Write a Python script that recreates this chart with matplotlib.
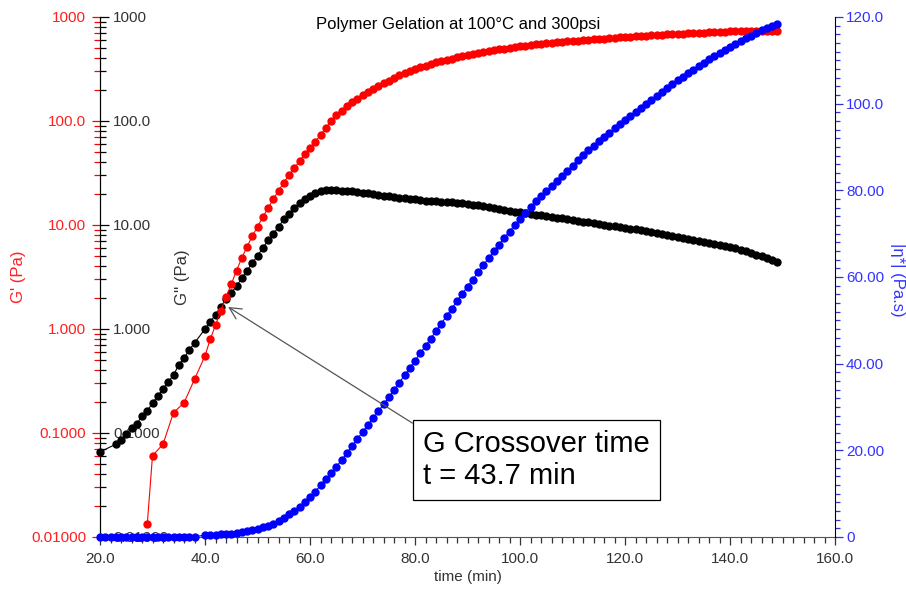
import numpy as np
import matplotlib
matplotlib.use("Agg")
import matplotlib.pyplot as plt
from matplotlib.ticker import MultipleLocator, LogLocator, NullFormatter

plt.rcParams['font.family'] = ['Liberation Sans', 'DejaVu Sans']

# G' (storage modulus), Pa
t_gp = [29, 30, 32, 34, 36, 38] + list(range(40, 150))
g_prime = [0.0132, 0.0605, 0.078, 0.157, 0.195, 0.328,
           0.553, 0.796, 1.09, 1.49, 2.02, 2.69, 3.64, 4.82, 6.18, 7.8,
           9.64, 11.9, 14.5, 17.7, 21.4, 25.5, 30.3, 35.1, 41.2, 48.2,
           54.6, 63.2, 73.5, 85, 100, 113, 126, 138, 151, 164,
           178, 192, 204, 219, 232, 245, 260, 275, 288, 302,
           316, 327, 339, 355, 367, 380, 389, 398, 412, 422,
           434, 442, 452, 462, 471, 479, 488, 495, 505, 513,
           521, 530, 537, 545, 552, 558, 565, 571, 578, 583,
           589, 594, 600, 605, 611, 617, 621, 627, 631, 637,
           641, 646, 652, 656, 661, 665, 670, 674, 679, 682,
           687, 692, 695, 700, 703, 708, 711, 716, 720, 723,
           726, 728, 730, 731, 733, 734, 735, 736, 737, 738]

# G'' (loss modulus), Pa
t_gpp = [20, 23, 24, 25, 26, 27, 28, 29, 30, 31, 32, 33, 34, 35, 36, 37, 38] + list(range(40, 150))
g_dprime = [0.0657, 0.078, 0.0857, 0.098, 0.112, 0.122, 0.146, 0.163, 0.194, 0.227,
            0.265, 0.309, 0.361, 0.451, 0.526, 0.628, 0.733,
            1.0, 1.17, 1.37, 1.63, 1.94, 2.22, 2.59, 3.07, 3.64, 4.29,
            5.07, 6.0, 7.1, 8.2, 9.6, 11.3, 12.8, 14.5, 16.2, 17.8,
            19.0, 20.2, 21.0, 21.5, 21.7, 21.6, 21.4, 21.2, 21.0, 20.7,
            20.4, 20.1, 19.8, 19.5, 19.2, 18.9, 18.6, 18.3, 18.0, 17.8,
            17.6, 17.4, 17.2, 17.0, 16.9, 16.8, 16.7, 16.6, 16.4, 16.2,
            16.0, 15.7, 15.4, 15.1, 14.8, 14.5, 14.2, 13.9, 13.6, 13.4,
            13.2, 13.0, 12.8, 12.6, 12.4, 12.2, 12.0, 11.8, 11.6, 11.4,
            11.2, 11.0, 10.8, 10.6, 10.4, 10.2, 10.0, 9.85, 9.7, 9.55,
            9.4, 9.25, 9.1, 8.95, 8.8, 8.6, 8.4, 8.2, 8.0, 7.8,
            7.6, 7.45, 7.3, 7.15, 7.0, 6.85, 6.7, 6.55, 6.4, 6.25,
            6.1, 5.95, 5.8, 5.6, 5.4, 5.2, 5.0, 4.8, 4.6, 4.45]

# |eta*| (complex viscosity), Pa.s
t_eta = list(range(20, 39)) + list(range(40, 150))
eta = [0.1] * 19 + [
    0.4, 0.45, 0.5, 0.6, 0.7, 0.8, 0.95, 1.1, 1.3, 1.55,
    1.85, 2.2, 2.6, 3.1, 3.7, 4.4, 5.2, 6.1, 7.0, 8.0,
    9.2, 10.5, 11.9, 13.3, 14.8, 16.2, 17.7, 19.3, 20.9, 22.6,
    24.2, 25.8, 27.4, 29.0, 30.6, 32.2, 33.9, 35.6, 37.3, 39.0,
    40.7, 42.4, 44.1, 45.8, 47.5, 49.2, 51.0, 52.7, 54.4, 56.1,
    57.8, 59.4, 61.1, 62.7, 64.3, 65.9, 67.5, 69.0, 70.5, 72.0,
    73.4, 74.8, 76.2, 77.5, 78.7, 79.8, 81.0, 82.2, 83.3, 84.5,
    85.7, 87.0, 88.2, 89.3, 90.3, 91.3, 92.3, 93.3, 94.3, 95.3,
    96.3, 97.2, 98.1, 99.0, 100.0, 100.9, 101.8, 102.7, 103.6, 104.5,
    105.4, 106.2, 107.0, 107.8, 108.6, 109.4, 110.2, 111.0, 111.7, 112.4,
    113.1, 113.8, 114.5, 115.1, 115.7, 116.3, 116.9, 117.5, 118.0, 118.5]

log_ticks = [0.01, 0.1, 1, 10, 100, 1000]
log_labels = ['0.01000', '0.1000', '1.000', '10.00', '100.0', '1000']
eta_ticks = [0, 20, 40, 60, 80, 100, 120]
eta_labels = ['0', '20.00', '40.00', '60.00', '80.00', '100.0', '120.0']
x_ticks = [20, 40, 60, 80, 100, 120, 140, 160]
x_labels = ['20.0', '40.0', '60.0', '80.0', '100.0', '120.0', '140.0', '160.0']

W, H = 906, 590
fig = plt.figure(figsize=(W / 100, H / 100), dpi=100)
ax = fig.add_axes([100 / W, 53 / H, 735 / W, 520 / H])

txt_gray = '#333333'
red_txt = '#ff2020'
blue_txt = '#3333ff'

# --- G' axis (red, left of spine)
ax.set_xlim(20, 160)
ax.set_yscale('log')
ax.set_ylim(0.01, 1000)
ax.set_yticks(log_ticks)
ax.set_yticklabels(log_labels)
ax.yaxis.set_minor_locator(LogLocator(base=10, subs=np.arange(2, 10)))
ax.yaxis.set_minor_formatter(NullFormatter())
ax.tick_params(axis='y', which='major', direction='out', length=6, width=0.9,
               color='red', labelcolor=red_txt, labelsize=11, pad=4)
ax.tick_params(axis='y', which='minor', direction='out', length=4, width=0.9, color='red')
ax.set_xticks(x_ticks)
ax.set_xticklabels(x_labels)
ax.xaxis.set_minor_locator(MultipleLocator(2))
ax.tick_params(axis='x', which='major', direction='out', length=6, width=0.9,
               color=txt_gray, labelcolor=txt_gray, labelsize=11, pad=5)
ax.tick_params(axis='x', which='minor', direction='out', length=4, width=0.9, color=txt_gray)
for s in ['top', 'right']:
    ax.spines[s].set_visible(False)
ax.spines['left'].set_color('black')
ax.spines['bottom'].set_color('#555555')
ax.set_xlabel('time (min)', fontsize=11, color=txt_gray, labelpad=3)

# --- G'' axis (black, right of the same spine)
ax2 = ax.twinx()
ax2.spines['right'].set_position(('axes', 0.0))
for s in ['top', 'left', 'bottom']:
    ax2.spines[s].set_visible(False)
ax2.set_yscale('log')
ax2.set_ylim(0.01, 1000)
ax2.set_yticks(log_ticks)
ax2.set_yticklabels(log_labels)
ax2.yaxis.set_minor_locator(LogLocator(base=10, subs=np.arange(2, 10)))
ax2.yaxis.set_minor_formatter(NullFormatter())
ax2.tick_params(axis='y', which='major', direction='out', length=6.5, width=0.9,
                color='black', labelcolor=txt_gray, labelsize=11, pad=3)
ax2.tick_params(axis='y', which='minor', direction='out', length=4, width=0.9, color='black')

ax2.plot(t_gpp, g_dprime, '-o', color='black', ms=5, lw=0.8, clip_on=False)
ax2.plot(t_gp, g_prime, '-o', color='red', ms=5, lw=0.8, clip_on=False)

# --- |eta*| axis (blue, right)
ax3 = ax.twinx()
for s in ['top', 'left', 'bottom']:
    ax3.spines[s].set_visible(False)
ax3.spines['right'].set_color('black')
ax3.set_ylim(0, 120)
ax3.set_yticks(eta_ticks)
ax3.set_yticklabels(eta_labels)
ax3.yaxis.set_minor_locator(MultipleLocator(2))
ax3.tick_params(axis='y', which='major', direction='out', length=6, width=0.9,
                color='#3333cc', labelcolor=blue_txt, labelsize=11, pad=2)
ax3.tick_params(axis='y', which='minor', direction='out', length=3.5, width=0.9, color='#3333cc')
ax3.plot(t_eta, eta, '-o', color='blue', ms=5, lw=0.8, clip_on=False)

# axis labels
fig.text(18 / W, 1 - 277 / H, "G' (Pa)", rotation=90, color=red_txt, fontsize=12,
         ha='center', va='center')
fig.text(183 / W, 1 - 277 / H, "G'' (Pa)", rotation=90, color=txt_gray, fontsize=12,
         ha='center', va='center')
fig.text(897 / W, 1 - 280 / H, "|\u03b7*| (Pa.s)", rotation=270, color=blue_txt, fontsize=12,
         ha='center', va='center')

fig.text(458 / W, 1 - 24 / H, 'Polymer Gelation at 100\u00b0C and 300psi', fontsize=12,
         color='black', ha='center', va='center')

ax3.annotate('G Crossover time\nt = 43.7 min',
             xy=(44.4, 1.63), xycoords=ax2.transData,
             xytext=(423, H - 460), textcoords='figure pixels',
             fontsize=21, ha='left', va='center', linespacing=1.2,
             bbox=dict(boxstyle='square,pad=0.35', fc='white', ec='black', lw=0.9),
             arrowprops=dict(arrowstyle='->', color='#555555', lw=0.9,
                             relpos=(0, 1), shrinkA=0, shrinkB=0))

fig.savefig('out.png', dpi=100)
